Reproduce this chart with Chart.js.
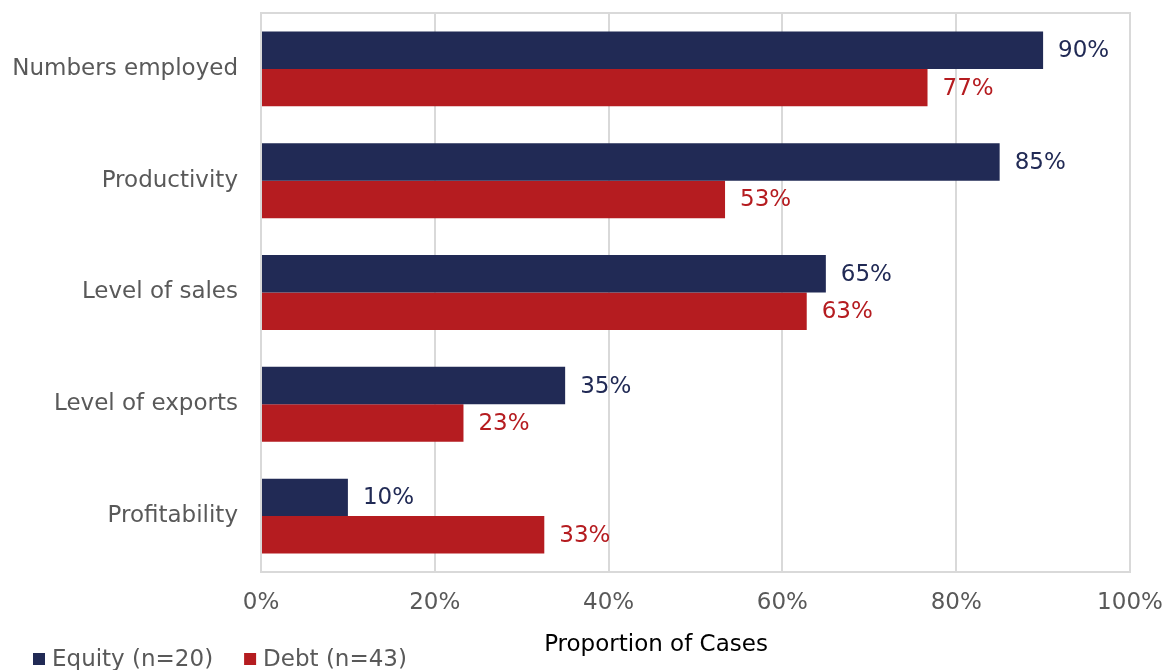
<!DOCTYPE html>
<html lang="en">
<head>
    <meta charset="UTF-8">
    <title>Proportion of Cases - Equity vs Debt</title>
    <script src="https://cdn.jsdelivr.net/npm/chart.js"></script>
    <style>
        html, body { margin: 0; padding: 0; background: #fff; }
        #wrap { width: 1173px; height: 670px; position: relative; }
    </style>
</head>
<body>
    <div id="wrap">
        <canvas id="barChart"></canvas>
    </div>
    <script>
        // Adatok
        const categories = ['Numbers employed', 'Productivity', 'Level of sales', 'Level of exports', 'Profitability'];
        const equityValues = [90, 85, 65, 35, 10];
        const debtValues = [76.7, 53.4, 62.8, 23.3, 32.6];
        const seriesNames = ['Equity (n=20)', 'Debt (n=43)'];
        const xTicks = [0, 20, 40, 60, 80, 100];
        const axisTitle = 'Proportion of Cases';

        const NAVY = '#212a55';
        const RED = '#b51c20';
        const GREY = '#595959';
        const GRID = '#d9d9d9';
        const FONT = '23px "DejaVu Sans", Verdana, sans-serif';

        Chart.defaults.font.family = '"DejaVu Sans", Verdana, sans-serif';
        Chart.defaults.font.size = 23;
        Chart.defaults.color = GREY;

        // keret, értékcímkék, tengelycím, jelmagyarázat
        const extras = {
            id: 'extras',
            beforeDatasetsDraw(chart) {
                const a = chart.chartArea;
                const c = chart.ctx;
                c.save();
                c.strokeStyle = GRID;
                c.lineWidth = 2;
                c.strokeRect(a.left, a.top, a.right - a.left, a.bottom - a.top);
                c.restore();
            },
            afterDatasetsDraw(chart) {
                const c = chart.ctx;
                c.save();
                c.font = FONT;
                c.textAlign = 'left';
                c.textBaseline = 'middle';
                chart.data.datasets.forEach((ds, i) => {
                    chart.getDatasetMeta(i).data.forEach((bar, j) => {
                        c.fillStyle = ds.backgroundColor;
                        c.fillText(Math.round(ds.data[j]) + '%', bar.x + 15, bar.y + 1);
                    });
                });
                // tengelycím
                c.fillStyle = '#000';
                c.textAlign = 'center';
                c.fillText(axisTitle, 656, 645);
                // jelmagyarázat
                c.textAlign = 'left';
                let x = 33;
                const y = 659;
                chart.data.datasets.forEach(ds => {
                    c.fillStyle = ds.backgroundColor;
                    c.fillRect(x, y - 6, 12, 12);
                    x += 19;
                    c.fillStyle = GREY;
                    c.fillText(ds.label, x, y + 1);
                    x += c.measureText(ds.label).width + 31;
                });
                c.restore();
            }
        };

        const ctx = document.getElementById('barChart').getContext('2d');
        const chart = new Chart(ctx, {
            type: 'bar',
            data: {
                labels: categories,
                datasets: [{
                    label: seriesNames[0],
                    data: equityValues,
                    backgroundColor: NAVY,
                    borderWidth: 0
                }, {
                    label: seriesNames[1],
                    data: debtValues,
                    backgroundColor: RED,
                    borderWidth: 0
                }]
            },
            options: {
                indexAxis: 'y',
                responsive: true,
                maintainAspectRatio: false,
                animation: false,
                datasets: {
                    bar: { categoryPercentage: 0.67, barPercentage: 1 }
                },
                layout: {
                    padding: { left: 1.5, right: 43, top: 13, bottom: 0 }
                },
                plugins: {
                    legend: { display: false },
                    tooltip: { enabled: false }
                },
                scales: {
                    x: {
                        min: 0,
                        max: 100,
                        afterBuildTicks: scale => { scale.ticks = xTicks.map(v => ({ value: v })); },
                        afterFit: scale => {
                            scale.height = 98;
                            scale.paddingLeft = 0;
                            scale.paddingRight = 0;
                        },
                        ticks: {
                            padding: 17,
                            callback: v => v + '%'
                        },
                        grid: { color: GRID, lineWidth: 2, drawTicks: false },
                        border: { display: false }
                    },
                    y: {
                        afterFit: scale => {
                            scale.width = 259.5;
                            scale.paddingTop = 0;
                            scale.paddingBottom = 0;
                        },
                        ticks: { padding: 23 },
                        grid: { display: false, drawTicks: false },
                        border: { display: false }
                    }
                }
            },
            plugins: [extras]
        });
    </script>
</body>
</html>
